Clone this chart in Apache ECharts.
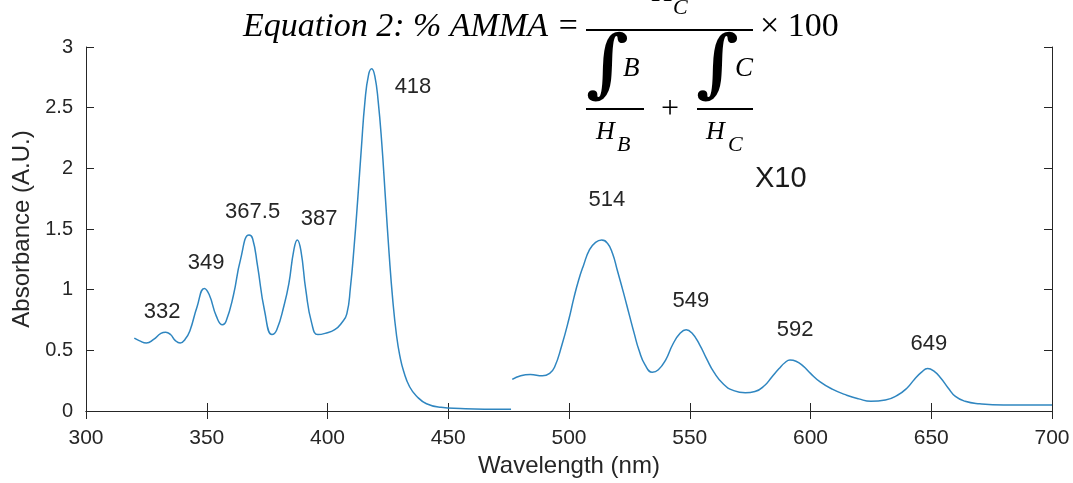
<!DOCTYPE html>
<html>
<head>
<meta charset="utf-8">
<script src="https://cdn.jsdelivr.net/npm/echarts@6/dist/echarts.min.js"></script>
<style>
html,body{margin:0;padding:0;background:#fff;}
#chart{width:1073px;height:483px;}
</style>
</head>
<body>
<div id="chart"></div>
<script>
// ---- data ----
var leftWave = [320, 322, 325, 328, 331, 333, 335, 337, 339, 341, 343, 346, 349, 351, 354, 356.5, 358, 361, 364, 367.5, 369, 371, 374, 377, 379, 382, 384, 386, 387.5, 389, 391, 393.5, 396, 399, 403, 406, 408, 409.5, 411, 412.5, 414, 415.5, 417, 418.3, 419.6, 421, 422.5, 424, 425.5, 427, 428.6, 430, 431.5, 434, 437, 441, 447, 455, 465, 476];
var leftAbs  = [0.60, 0.58, 0.56, 0.59, 0.64, 0.65, 0.63, 0.58, 0.56, 0.59, 0.66, 0.86, 1.01, 0.96, 0.78, 0.71, 0.74, 0.95, 1.25, 1.45, 1.42, 1.20, 0.82, 0.63, 0.67, 0.87, 1.05, 1.32, 1.41, 1.32, 1.00, 0.72, 0.63, 0.64, 0.67, 0.73, 0.80, 1.02, 1.35, 1.74, 2.16, 2.55, 2.77, 2.82, 2.76, 2.55, 2.20, 1.75, 1.30, 0.92, 0.62, 0.45, 0.33, 0.20, 0.12, 0.06, 0.03, 0.02, 0.015, 0.015];
var rightWave = [476.5, 480, 484, 489, 492, 494, 497, 500, 502, 504, 506, 508.5, 511, 513.5, 516, 518, 520, 522.5, 525, 527, 529, 531.5, 534.5, 537, 540, 543, 546, 548.5, 551, 554, 557, 560, 564, 568, 573, 577, 581, 584, 587, 589.5, 591.5, 594, 597, 600, 604, 609, 615, 620, 625, 631, 636, 640, 643, 646, 648.5, 651, 654, 657, 660, 664, 670, 680, 690, 700];
var rightAbs  = [0.26, 0.29, 0.30, 0.29, 0.31, 0.36, 0.54, 0.76, 0.93, 1.08, 1.20, 1.33, 1.39, 1.41, 1.38, 1.30, 1.16, 0.98, 0.79, 0.64, 0.50, 0.38, 0.32, 0.34, 0.42, 0.55, 0.64, 0.67, 0.64, 0.55, 0.43, 0.32, 0.22, 0.17, 0.15, 0.16, 0.21, 0.28, 0.35, 0.40, 0.42, 0.41, 0.37, 0.31, 0.24, 0.18, 0.13, 0.10, 0.08, 0.09, 0.13, 0.19, 0.26, 0.32, 0.35, 0.33, 0.27, 0.19, 0.12, 0.08, 0.06, 0.05, 0.05, 0.05];
var peakLabels = ['332', '349', '367.5', '387', '418', '514', '549', '592', '649'];
var labelWave  = [331.5, 349.7, 369, 396.5, 435.4, 515.7, 550.5, 593.6, 649];
var labelAbs   = [0.82, 1.22, 1.64, 1.58, 2.67, 1.74, 0.91, 0.67, 0.55];
var xTicks = [300, 350, 400, 450, 500, 550, 600, 650, 700];
var yTicks = [0, 0.5, 1, 1.5, 2, 2.5, 3];

var chart = echarts.init(document.getElementById('chart'), null, {renderer: 'canvas'});
function pairs(xs, ys) { return xs.map(function (x, i) { return [x, ys[i]]; }); }
var axisColor = '#262626';
var labelFont = 'Liberation Sans, Arial, sans-serif';
var eqFont = 'Liberation Serif, serif';
var intFont = 'DejaVu Serif, serif';
function t(x, y, text, font) {
  return {type: 'text', x: x, y: y, style: {text: text, fill: '#000', font: font, textVerticalAlign: 'bottom'}};
}

var option = {
  backgroundColor: '#ffffff',
  animation: false,
  grid: {left: 86, right: 21, top: 47, bottom: 70, containLabel: false},
  xAxis: [{
    type: 'value', min: xTicks[0], max: xTicks[xTicks.length - 1], interval: 50,
    name: 'Wavelength (nm)', nameLocation: 'middle', nameGap: 43,
    nameTextStyle: {color: axisColor, fontSize: 24, fontFamily: labelFont},
    axisLine: {lineStyle: {color: axisColor, width: 1}},
    axisTick: {inside: true, length: 8, lineStyle: {color: axisColor}},
    axisLabel: {color: axisColor, fontSize: 21, fontFamily: labelFont, margin: 17},
    splitLine: {show: false}
  }, {
    type: 'value', position: 'top', min: xTicks[0], max: xTicks[xTicks.length - 1], interval: 50,
    axisLine: {lineStyle: {color: axisColor, width: 1}},
    axisTick: {inside: true, length: 8, lineStyle: {color: axisColor}},
    axisLabel: {show: false}, splitLine: {show: false}
  }],
  yAxis: [{
    type: 'value', min: yTicks[0], max: yTicks[yTicks.length - 1], interval: 0.5,
    name: 'Absorbance (A.U.)', nameLocation: 'middle', nameGap: 50, nameRotate: 90,
    nameTextStyle: {color: axisColor, fontSize: 24, fontFamily: labelFont},
    axisLine: {show: true, lineStyle: {color: axisColor, width: 1}},
    axisTick: {show: true, inside: true, length: 8, lineStyle: {color: axisColor}},
    axisLabel: {color: axisColor, fontSize: 20, fontFamily: labelFont, margin: 13},
    splitLine: {show: false}
  }, {
    type: 'value', position: 'right', min: yTicks[0], max: yTicks[yTicks.length - 1], interval: 0.5,
    axisLine: {show: true, lineStyle: {color: axisColor, width: 1}},
    axisTick: {show: true, inside: true, length: 8, lineStyle: {color: axisColor}},
    axisLabel: {show: false}, splitLine: {show: false}
  }],
  series: [{
    type: 'line', data: pairs(leftWave, leftAbs), showSymbol: false, smooth: 0.5,
    lineStyle: {color: '#2f86c0', width: 1.5}, z: 3
  }, {
    type: 'line', data: pairs(rightWave, rightAbs), showSymbol: false, smooth: 0.5,
    lineStyle: {color: '#2f86c0', width: 1.5}, z: 3
  }, {
    type: 'scatter', symbolSize: 0, silent: true,
    data: pairs(labelWave, labelAbs).map(function (p, i) { return {value: p, name: peakLabels[i]}; }),
    label: {show: true, position: 'inside', formatter: function (p) { return p.name; },
      color: axisColor, fontSize: 22, fontFamily: labelFont},
    itemStyle: {opacity: 1}
  }],
  graphic: [
    {type: 'text', x: 755, y: 179, style: {text: 'X10', fill: '#1a1a1a', font: '29px ' + labelFont, textVerticalAlign: 'middle'}},
    t(243, 44, 'Equation 2: % AMMA =', 'italic 34px ' + eqFont),
    {type: 'line', shape: {x1: 586, y1: 30, x2: 753, y2: 30}, style: {stroke: '#000', lineWidth: 2}},
    t(760, 44, '× 100', '34px ' + eqFont),
    t(652, 8, 'H', 'italic 30px ' + eqFont),
    t(673, 19, 'C', 'italic 22px ' + eqFont),
    t(586, 106, '∫', 'bold 74px ' + intFont),
    t(623, 82, 'B', 'italic 27px ' + eqFont),
    {type: 'line', shape: {x1: 586, y1: 109, x2: 644, y2: 109}, style: {stroke: '#000', lineWidth: 2}},
    t(596, 145, 'H', 'italic 26px ' + eqFont),
    t(617, 156, 'B', 'italic 22px ' + eqFont),
    {type: 'text', x: 670, y: 110, style: {text: '+', fill: '#000', font: '32px ' + eqFont, textAlign: 'center', textVerticalAlign: 'middle'}},
    t(696, 106, '∫', 'bold 74px ' + intFont),
    t(735, 82, 'C', 'italic 27px ' + eqFont),
    {type: 'line', shape: {x1: 697, y1: 109, x2: 753, y2: 109}, style: {stroke: '#000', lineWidth: 2}},
    t(706, 145, 'H', 'italic 26px ' + eqFont),
    t(728, 156, 'C', 'italic 22px ' + eqFont)
  ]
};
chart.setOption(option);
</script>
</body>
</html>
